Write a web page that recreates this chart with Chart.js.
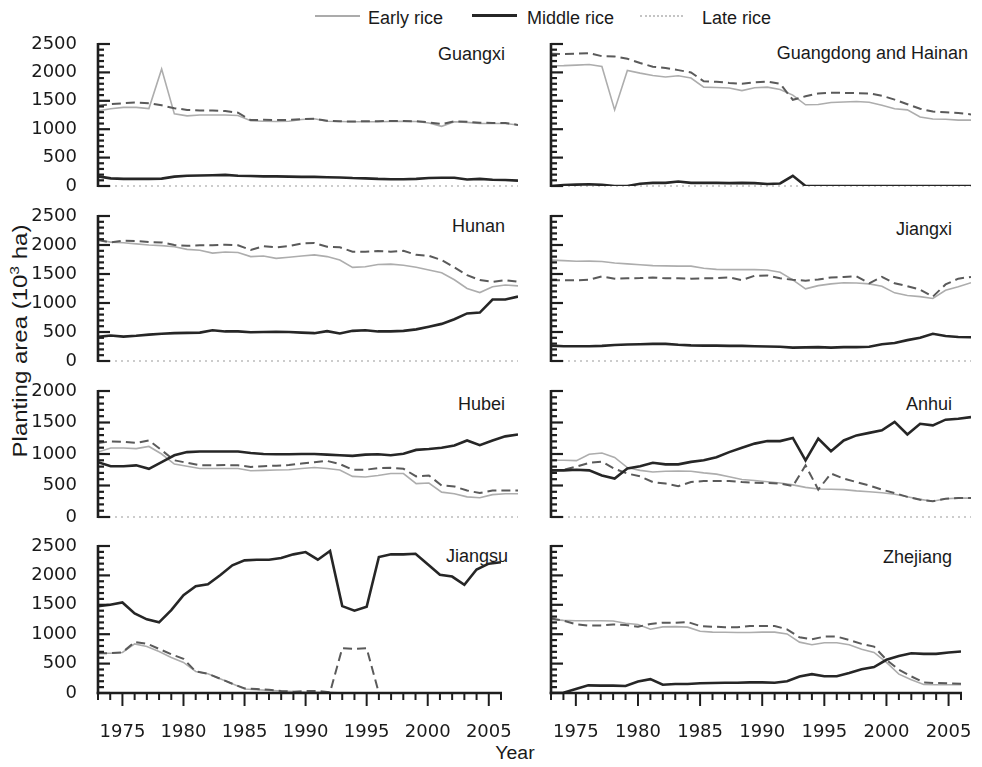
<!DOCTYPE html>
<html><head><meta charset="utf-8">
<script src="https://cdn.jsdelivr.net/npm/chart.js@4.4.1/dist/chart.umd.min.js"></script>
<style>
html,body{margin:0;padding:0;background:#fff;}
body{width:982px;height:767px;position:relative;overflow:hidden;font-family:"Liberation Sans",Arial,Helvetica,sans-serif;color:#1a1a1a;}
canvas{position:absolute;}
.lbl{position:absolute;font-size:18px;line-height:18px;white-space:nowrap;}
.sw{position:absolute;height:0;}
</style></head><body>

<div class="sw" style="left:315px;top:15px;width:45px;border-top:2px solid #ababab;"></div>
<div class="lbl" style="left:368px;top:9px;">Early rice</div>
<div class="sw" style="left:472px;top:14px;width:45px;border-top:3px solid #262626;"></div>
<div class="lbl" style="left:527px;top:9px;">Middle rice</div>
<div class="sw" style="left:640px;top:15px;width:43px;border-top:2px dotted #c4c4c4;"></div>
<div class="lbl" style="left:702px;top:9px;">Late rice</div>

<div class="lbl" style="left:20px;top:341px;font-size:20px;line-height:20px;transform:translate(-50%,-50%) rotate(-90deg) scaleX(1.2);">Planting area (10<sup style="font-size:13px;line-height:0;">3</sup> ha)</div>
<div class="lbl" style="left:515px;top:744px;transform:translateX(-50%) scaleX(1.08);">Year</div>

<div id="labels"></div>

<script>
// ---------- data ----------
const years = [1973,1974,1975,1976,1977,1978,1979,1980,1981,1982,
               1983,1984,1985,1986,1987,1988,1989,1990,1991,1992,
               1993,1994,1995,1996,1997,1998,1999,2000,2001,2002,
               2003,2004,2005,2006];
const seriesNames = ['Early rice','Middle rice','Late rice'];
const provinces = ['Guangxi','Guangdong and Hainan','Hunan','Jiangxi','Hubei','Anhui','Jiangsu','Zhejiang'];
const yMaxima = [2500,2500,2500,2500,2000,2000,2500,2500];
const yStep = 100;
const yLabelStep = 500;
const xLabelStep = 5;

const guangxiEarly = [1323,1360,1385,1385,1364,2058,1270,1235,1250,1250,
  1250,1240,1150,1140,1135,1140,1170,1185,1140,1135,
  1130,1130,1130,1135,1140,1135,1110,1050,1130,1120,
  1100,1100,1100,1075];
const guangxiMiddle = [170,135,125,125,125,130,165,180,185,190,
  195,180,175,170,170,165,160,160,155,150,
  140,135,125,120,120,125,140,145,145,115,
  125,110,105,95];
const guangxiLate = [1411,1440,1458,1470,1458,1420,1370,1340,1330,1330,
  1320,1290,1160,1165,1160,1165,1175,1185,1150,1140,
  1135,1140,1140,1145,1145,1140,1120,1090,1140,1130,
  1115,1110,1110,1075];

const guangdongEarly = [2117,2120,2128,2140,2105,1340,2034,1987,1946,1920,
  1940,1900,1740,1735,1725,1680,1730,1740,1700,1600,
  1430,1435,1470,1480,1488,1475,1420,1360,1340,1215,
  1180,1175,1160,1160];
const guangdongMiddle = [0,15,25,30,20,0,0,40,55,55,
  80,55,55,55,50,55,50,35,45,180,
  0,0,0,0,0,0,0,0,0,0,
  0,0,0,0];
const guangdongLate = [2328,2322,2330,2340,2285,2281,2240,2165,2100,2076,
  2040,2000,1845,1835,1815,1800,1825,1840,1800,1517,
  1580,1630,1640,1640,1635,1630,1590,1520,1440,1360,
  1310,1300,1285,1260];

const hunanEarly = [2090,2050,2040,2020,2000,1990,1970,1925,1910,1860,
  1880,1870,1800,1810,1770,1790,1810,1830,1800,1740,
  1615,1625,1665,1670,1650,1615,1570,1520,1400,1250,
  1180,1280,1310,1295];
const hunanMiddle = [415,440,420,435,455,470,480,485,490,530,
  510,510,495,500,505,500,490,480,515,475,
  520,530,510,510,520,545,590,640,720,820,
  835,1060,1060,1110];
const hunanLate = [2085,2045,2075,2070,2050,2045,2000,1985,1995,1995,
  2005,1995,1915,1980,1960,1980,2025,2035,1970,1960,
  1885,1885,1895,1885,1900,1830,1815,1740,1615,1480,
  1395,1365,1395,1365];

const jiangxiEarly = [1740,1730,1720,1722,1715,1690,1675,1660,1645,1640,
  1635,1635,1600,1580,1575,1575,1575,1570,1530,1400,
  1245,1300,1330,1350,1345,1330,1290,1175,1130,1110,
  1077,1220,1280,1350];
const jiangxiMiddle = [265,255,255,255,260,275,285,290,295,295,
  280,270,265,265,260,260,255,250,245,230,
  235,240,230,240,240,245,290,310,360,400,
  470,430,415,410];
const jiangxiLate = [1394,1394,1390,1400,1460,1420,1425,1430,1440,1425,
  1425,1420,1425,1430,1440,1395,1470,1475,1425,1400,
  1385,1405,1440,1450,1460,1340,1450,1340,1290,1230,
  1110,1320,1420,1450];

const hubeiEarly = [1030,1095,1095,1085,1120,1000,840,805,770,770,
  770,770,735,740,745,750,770,785,770,745,
  645,635,660,690,690,530,540,395,370,320,
  305,355,370,370];
const hubeiMiddle = [870,805,805,820,765,870,980,1030,1040,1040,
  1040,1040,1015,1000,995,995,1000,1000,990,980,
  970,990,995,980,1005,1065,1080,1100,1135,1215,
  1140,1215,1280,1310];
const hubeiLate = [1175,1200,1195,1175,1215,1060,900,860,820,820,
  825,820,795,805,815,825,850,870,890,840,
  750,750,775,780,765,645,660,500,485,420,
  380,420,420,420];

const anhuiEarly = [900,900,895,995,1015,945,785,740,715,725,
  730,725,700,680,640,595,580,560,540,510,
  470,445,440,435,415,400,385,360,320,280,
  250,290,300,300];
const anhuiMiddle = [740,740,750,740,660,610,770,805,860,835,
  835,875,900,950,1030,1100,1165,1205,1205,1255,
  900,1245,1045,1215,1295,1335,1375,1510,1310,1480,
  1455,1545,1560,1585];
const anhuiLate = [740,750,800,860,880,765,690,645,555,530,
  490,555,570,570,570,555,545,540,530,490,
  820,435,690,610,555,500,435,380,320,275,
  250,290,300,300];

const jiangsuEarly = [677,677,690,835,790,705,605,520,367,327,
  243,158,68,56,45,34,23,17,11,10,
  0,0,0,0,0,0,0,0,0,0,
  0,0,0,0];
const jiangsuMiddle = [1478,1500,1540,1354,1252,1201,1410,1664,1816,1850,
  2002,2171,2256,2267,2267,2295,2358,2397,2267,2414,
  1478,1399,1466,2312,2358,2358,2369,2190,2010,1980,
  1840,2100,2200,2225];
const jiangsuLate = [677,677,690,865,840,750,660,580,367,327,
  243,158,79,68,56,34,23,34,34,11,
  760,750,760,0,0,0,0,0,0,0,
  0,0,0,0];

const zhejiangEarly = [1252,1235,1230,1230,1230,1225,1185,1165,1085,1125,
  1128,1120,1050,1035,1032,1030,1030,1035,1035,1005,
  865,820,855,855,820,745,690,520,320,225,
  145,141,141,141];
const zhejiangMiddle = [0,5,70,130,125,125,120,195,235,140,
  152,152,165,170,175,175,180,180,175,200,
  280,320,285,285,340,405,440,565,630,675,
  665,665,690,705];
const zhejiangLate = [1269,1230,1170,1145,1150,1167,1156,1128,1173,1195,
  1195,1207,1139,1128,1120,1117,1139,1139,1139,1083,
  948,914,959,959,902,835,790,564,395,282,
  180,169,165,158];

const panelSeries = [
  [guangxiEarly, guangxiMiddle, guangxiLate],
  [guangdongEarly, guangdongMiddle, guangdongLate],
  [hunanEarly, hunanMiddle, hunanLate],
  [jiangxiEarly, jiangxiMiddle, jiangxiLate],
  [hubeiEarly, hubeiMiddle, hubeiLate],
  [anhuiEarly, anhuiMiddle, anhuiLate],
  [jiangsuEarly, jiangsuMiddle, jiangsuLate],
  [zhejiangEarly, zhejiangMiddle, zhejiangLate]
];

// ---------- layout & style ----------
const FONT_FAMILY = '"Liberation Sans", Arial, Helvetica, sans-serif';
Chart.defaults.font.family = FONT_FAMILY;
Chart.defaults.font.size = 18;
Chart.defaults.color = '#1a1a1a';
const TICK_FONT = { family: '"DejaVu Sans", "Liberation Sans", Arial, sans-serif', size: 18, weight: 'normal' };
const COLS = [{left:0, width:522, areaL:98, areaR:518}, {left:522, width:460, areaL:29, areaR:449}];
const ROWS = [{top:44, bottom:186}, {top:216, bottom:361}, {top:391, bottom:517}, {top:546, bottom:693}];
const PAD = 25, XAXIS_H = 52;
const styles = [
  {borderColor:'#adadad', borderWidth:1.6},
  {borderColor:'#262626', borderWidth:2.6},
  {borderColor:'#5a5a5a', borderWidth:2, borderDash:[9,5]}
];
const labelPos = [
  {right:477, top:45}, {right:14, top:44},
  {right:477, top:217}, {right:30, top:220},
  {right:477, top:395}, {right:30, top:395},
  {right:474, top:547}, {right:30, top:548}
];

const decoPlugin = {
  id: 'deco',
  beforeDatasetsDraw(chart, args, opts) {
    if (opts.bottomAxis) return;
    const {ctx, chartArea:a, scales:{y}} = chart;
    const y0 = y.getPixelForValue(0);
    ctx.save();
    ctx.strokeStyle = '#bcbcbc'; ctx.lineWidth = 1.5; ctx.setLineDash([2,4]);
    ctx.beginPath(); ctx.moveTo(a.left + 5, y0); ctx.lineTo(a.right, y0); ctx.stroke();
    ctx.restore();
  },
  afterDatasetsDraw(chart, args, opts) {
    const {ctx, chartArea:a, scales:{x,y}} = chart;
    ctx.save();
    ctx.strokeStyle = '#1e1e1e';
    ctx.lineCap = 'butt';
    ctx.lineWidth = 2.6;
    ctx.beginPath();
    ctx.moveTo(a.left, y.getPixelForValue(y.max) - 1);
    ctx.lineTo(a.left, a.bottom + (opts.bottomAxis ? 1.3 : 1));
    ctx.stroke();
    ctx.lineWidth = 2.2;
    y.ticks.forEach(t => {
      const py = y.getPixelForValue(t.value);
      const len = t.value % yLabelStep === 0 ? 12 : 6;
      ctx.beginPath(); ctx.moveTo(a.left, py); ctx.lineTo(a.left + len, py); ctx.stroke();
    });
    if (opts.bottomAxis) {
      ctx.lineWidth = 2.6;
      ctx.beginPath(); ctx.moveTo(a.left - 1.3, a.bottom); ctx.lineTo(a.right + 1, a.bottom); ctx.stroke();
      ctx.lineWidth = 2;
      x.ticks.forEach(t => {
        const px = x.getPixelForValue(t.value);
        const len = t.value % xLabelStep === 0 ? 13 : 7;
        ctx.beginPath(); ctx.moveTo(px, a.bottom); ctx.lineTo(px, a.bottom + len); ctx.stroke();
      });
    }
    ctx.restore();
  }
};

const labelsDiv = document.getElementById('labels');
provinces.forEach((name, i) => {
  const r = Math.floor(i / 2), c = i % 2;
  const col = COLS[c], row = ROWS[r];
  const bottomAxis = r === 3;
  const cv = document.createElement('canvas');
  const h = (row.bottom - row.top) + PAD + (bottomAxis ? XAXIS_H : PAD);
  cv.width = col.width; cv.height = h;
  cv.style.left = col.left + 'px'; cv.style.top = (row.top - PAD) + 'px';
  cv.style.width = col.width + 'px'; cv.style.height = h + 'px';
  document.body.appendChild(cv);

  const datasets = panelSeries[i].map((vals, k) => Object.assign({
    label: seriesNames[k],
    data: years.map((yr, j) => ({x: yr, y: vals[j]})),
    pointRadius: 0, tension: 0, fill: false, order: k === 1 ? 0 : (k === 0 ? 2 : 1)
  }, styles[k]));

  new Chart(cv, {
    type: 'line',
    data: { datasets },
    plugins: [decoPlugin],
    options: {
      responsive: false, animation: false, devicePixelRatio: 1,
      layout: { padding: { left: 0, right: col.width - col.areaR, top: PAD, bottom: bottomAxis ? 0 : PAD } },
      plugins: { legend: {display:false}, tooltip: {enabled:false}, deco: { bottomAxis } },
      scales: {
        x: {
          type: 'linear', min: years[0], max: years[years.length-1],
          display: bottomAxis,
          grid: { display: false }, border: { display: false },
          ticks: {
            stepSize: 1, autoSkip: false, maxRotation: 0, padding: 21,
            font: TICK_FONT, color: '#1a1a1a',
            callback: v => v % xLabelStep === 0 ? String(v) : ''
          },
          afterFit: s => { if (bottomAxis) s.height = XAXIS_H; }
        },
        y: {
          min: 0, max: yMaxima[i],
          grid: { display: false }, border: { display: false },
          ticks: {
            display: c === 0,
            stepSize: yStep, autoSkip: false, padding: 13,
            font: TICK_FONT, color: '#1a1a1a',
            callback: v => v % yLabelStep === 0 ? String(v) : ''
          },
          afterFit: s => { s.width = col.areaL; }
        }
      }
    }
  });

  const d = document.createElement('div');
  d.className = 'lbl';
  d.style.right = labelPos[i].right + 'px';
  d.style.top = labelPos[i].top + 'px';
  d.textContent = name;
  labelsDiv.appendChild(d);
});
</script>
</body></html>
